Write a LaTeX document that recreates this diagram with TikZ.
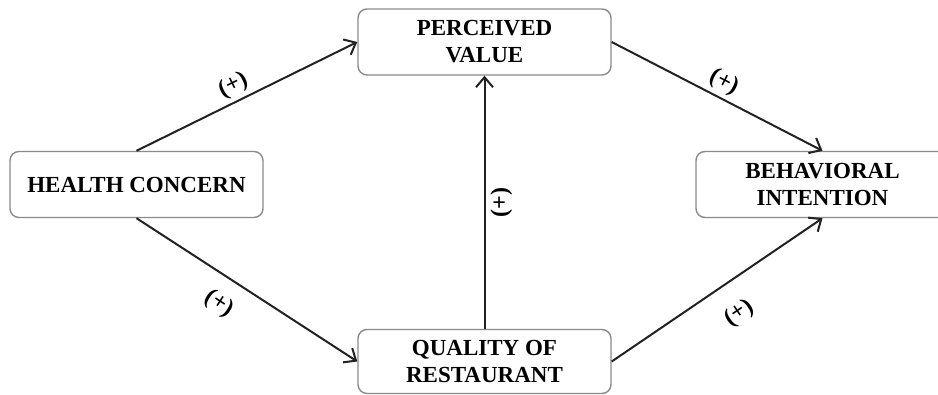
\documentclass[tikz,border=0pt]{standalone}
\usepackage{fontspec}
\setmainfont{Liberation Serif}
\usetikzlibrary{arrows.meta}
\definecolor{Frame}{HTML}{8A8A8A}
\definecolor{Ink}{HTML}{222222}

\begin{document}
\begin{tikzpicture}[x=1pt,y=-1pt,
  construct/.style={draw=Frame,line width=1.4pt,rounded corners=9pt,fill=white,
    minimum width=253pt,minimum height=66pt,inner sep=0pt,align=center,
    font=\fontsize{23}{27}\selectfont\bfseries},
  link/.style={draw=Ink,line width=2pt,-{Straight Barb[length=10pt,width=17pt]}},
  sign/.style={font=\fontsize{24}{28}\selectfont\bfseries,sloped,inner sep=2pt}
]
\clip (0,0) rectangle (938,394);
\node[construct] (health) at (136.5,184.5) {HEALTH CONCERN};
\node[construct] (value) at (484.5,42) {PERCEIVED\\VALUE};
\node[construct,minimum height=64pt] (quality) at (484.5,361.5) {QUALITY OF\\RESTAURANT};
\node[construct] (intention) at (822.5,184.5) {BEHAVIORAL\\INTENTION};

\draw[link] (health.north) -- node[sign,above=2pt,pos=0.47] {(+)} (value.west);
\draw[link] (health.south) -- node[sign,below=13pt,pos=0.44] {(+)} (quality.west);
\draw[link] (value.east) -- node[sign,above=2pt,pos=0.5] {(+)} (intention.north);
\draw[link] (quality.east) -- node[sign,below=18pt,pos=0.52] {(+)} (intention.south);
\draw[link] (quality.north) -- node[sign,below=3pt,pos=0.5] {(+)} (value.south);
\end{tikzpicture}
\end{document}
